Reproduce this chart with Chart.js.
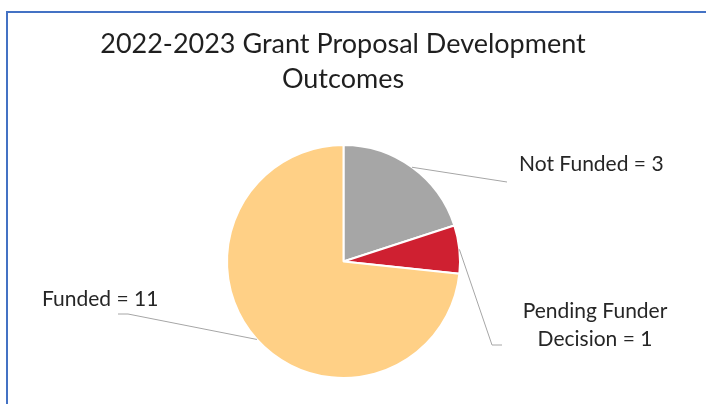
<!DOCTYPE html>
<html>
<head>
<meta charset="utf-8">
<script src="https://cdn.jsdelivr.net/npm/chart.js@4"></script>
<style>
  html, body { margin: 0; padding: 0; background: #fff; }
  #wrap { position: relative; width: 706px; height: 404px; overflow: hidden; }
  #frame { position: absolute; left: 6px; top: 11px; width: 900px; height: 600px; border: 2px solid #4472C4; box-sizing: border-box; }
  canvas { position: absolute; left: 0; top: 0; }
</style>
</head>
<body>
<div id="wrap">
  <div id="frame"></div>
  <canvas id="chart" width="706" height="404"></canvas>
</div>
<script>
const titleLines = ['2022-2023 Grant Proposal Development', 'Outcomes'];
const categories = ['Not Funded', 'Pending Funder Decision', 'Funded'];
const counts = [3, 1, 11];
const sliceColors = ['#A6A6A6', '#CF2031', '#FFD086'];

// where each data label sits and how its leader line bends
const labelSpots = [
  { lines: ['Not Funded = 3'], x: 519, y: 164, align: 'left', bend: [[507, 182]] },
  { lines: ['Pending Funder', 'Decision = 1'], x: 595, y: 311, align: 'center', bend: [[492, 345], [502, 345]] },
  { lines: ['Funded = 11'], x: 42, y: 299, align: 'left', bend: [[128, 314], [118, 314]] }
];

const calloutPlugin = {
  id: 'callouts',
  afterDraw(chart) {
    const ctx = chart.ctx;
    ctx.save();
    // title
    ctx.fillStyle = '#1f1f1f';
    ctx.font = '27px Lato, sans-serif';
    ctx.textAlign = 'center';
    ctx.textBaseline = 'middle';
    ctx.fillText(titleLines[0], 343, 44);
    ctx.fillText(titleLines[1], 343, 79);

    const meta = chart.getDatasetMeta(0);
    meta.data.forEach((arc, i) => {
      const p = arc.getProps(['x', 'y', 'startAngle', 'endAngle', 'outerRadius'], true);
      const mid = (p.startAngle + p.endAngle) / 2;
      const sx = p.x + Math.cos(mid) * p.outerRadius;
      const sy = p.y + Math.sin(mid) * p.outerRadius;
      const spot = labelSpots[i];
      ctx.strokeStyle = '#A6A6A6';
      ctx.lineWidth = 1;
      ctx.beginPath();
      ctx.moveTo(sx, sy);
      spot.bend.forEach(pt => ctx.lineTo(pt[0], pt[1]));
      ctx.stroke();

      ctx.fillStyle = '#262626';
      ctx.font = '21px Lato, sans-serif';
      ctx.textAlign = spot.align;
      ctx.textBaseline = 'middle';
      spot.lines.forEach((t, k) => ctx.fillText(t, spot.x, spot.y + k * 28));
    });
    ctx.restore();
  }
};

new Chart(document.getElementById('chart'), {
  type: 'pie',
  data: {
    labels: categories,
    datasets: [{
      data: counts,
      backgroundColor: sliceColors,
      borderColor: '#ffffff',
      borderWidth: 2
    }]
  },
  options: {
    responsive: false,
    animation: false,
    layout: { padding: { left: 226, right: 245, top: 144, bottom: 25 } },
    plugins: {
      legend: { display: false },
      title: { display: false },
      tooltip: { enabled: false }
    }
  },
  plugins: [calloutPlugin]
});
</script>
</body>
</html>
